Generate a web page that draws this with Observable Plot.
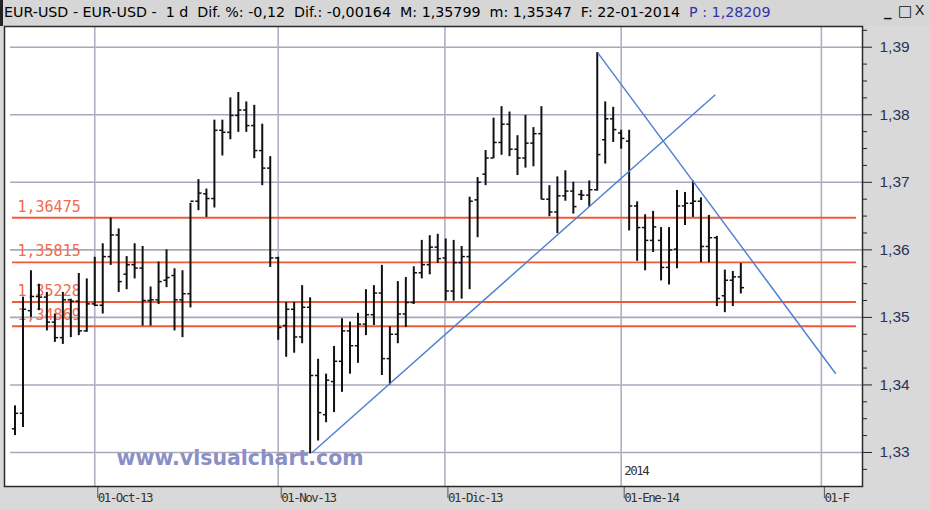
<!DOCTYPE html>
<html>
<head>
<meta charset="utf-8">
<script src="https://cdn.jsdelivr.net/npm/d3@7"></script>
<script src="https://cdn.jsdelivr.net/npm/@observablehq/plot@0.6"></script>
<style>
  html, body { margin: 0; padding: 0; background: #d9d9d9; }
  #wrap { position: relative; width: 930px; height: 510px; overflow: hidden; background: #d9d9d9; }
  #titlebar { position: absolute; left: 0; top: 0; width: 930px; height: 26px; background: #d6d6d6;
    font-family: "DejaVu Sans", Verdana, sans-serif; font-size: 14.25px; color: #000; white-space: pre;
    box-sizing: border-box; border-left: 3px solid #222; }
  #titlebar .t { position: absolute; left: 1px; top: 4px; }
  #titlebar .p { color: #2f35a8; }
  #titlebar .b { position: absolute; top: 2px; font-size: 15px; color: #111; font-family: "DejaVu Sans", sans-serif; }
  #chart { position: absolute; left: 0; top: 26px; }
  #chart svg g[aria-label="x-axis tick label"] text, #chart svg .yr text { letter-spacing: -1.5px; }
</style>
</head>
<body>
<div id="wrap">
  <div id="titlebar"><span class="t">EUR-USD - EUR-USD -  1 d  Dif. %: -0,12  Dif.: -0,00164  M: 1,35799  m: 1,35347  F: 22-01-2014  <span class="p">P : 1,28209</span></span><span class="b" style="left:881px;font-weight:bold">_</span><span class="b" style="left:895px">□</span><span class="b" style="left:912px;font-family:'Liberation Sans';font-size:14px">X</span></div>
  <div id="chart"></div>
</div>
<script>
// Daily bars, 17-Sep-2013 .. 22-Jan-2014 (trading days, in order)
const open  = [1.3335,1.3358,1.3510,1.3531,1.3530,1.3493,1.3470,1.3526,1.3524,1.3480,
               1.3520,1.3518,1.3590,1.3622,1.3564,1.3578,1.3573,1.3525,1.3526,1.3555,
               1.3562,1.3526,1.3535,1.3672,1.3683,1.3676,1.3777,1.3774,1.3799,1.3807,
               1.3784,1.3747,1.3721,1.3588,1.3488,1.3512,1.3471,1.3515,1.3414,1.3356,
               1.3405,1.3435,1.3480,1.3458,1.3490,1.3504,1.3536,1.3439,1.3475,1.3505,
               1.3522,1.3566,1.3578,1.3604,1.3588,1.3539,1.3581,1.3590,1.3674,1.3712,
               1.3736,1.3759,1.3786,1.3749,1.3736,1.3758,1.3772,1.3675,1.3656,1.3680,
               1.3687,1.3682,1.3681,1.3689,1.3763,1.3794,1.3773,1.3761,1.3665,1.3633,
               1.3614,1.3614,1.3574,1.3601,1.3665,1.3669,1.3672,1.3605,1.3618,1.3532,
               1.3555,1.3560];
const high  = [1.3369,1.3530,1.3569,1.3549,1.3537,1.3505,1.3537,1.3527,1.3565,1.3557,
               1.3589,1.3609,1.3647,1.3631,1.3590,1.3609,1.3605,1.3545,1.3582,1.3600,
               1.3572,1.3569,1.3669,1.3704,1.3690,1.3792,1.3792,1.3825,1.3833,1.3819,
               1.3814,1.3786,1.3738,1.3589,1.3522,1.3522,1.3547,1.3529,1.3438,1.3416,
               1.3457,1.3498,1.3493,1.3506,1.3541,1.3547,1.3577,1.3486,1.3553,1.3559,
               1.3575,1.3614,1.3621,1.3623,1.3616,1.3614,1.3605,1.3678,1.3707,1.3747,
               1.3795,1.3812,1.3804,1.3769,1.3799,1.3781,1.3812,1.3695,1.3708,1.3717,
               1.3700,1.3688,1.3702,1.3892,1.3819,1.3811,1.3777,1.3777,1.3671,1.3652,
               1.3657,1.3633,1.3633,1.3688,1.3685,1.3702,1.3677,1.3651,1.3620,1.3570,
               1.3568,1.35799];
const low   = [1.3325,1.3337,1.3500,1.3510,1.3480,1.3463,1.3460,1.3470,1.3473,1.3478,
               1.3516,1.3505,1.3577,1.3537,1.3541,1.3557,1.3487,1.3487,1.3519,1.3544,
               1.3480,1.3470,1.3514,1.3658,1.3648,1.3662,1.3739,1.3763,1.3774,1.3774,
               1.3735,1.3695,1.3574,1.3466,1.3441,1.3447,1.3461,1.3298,1.3317,1.3344,
               1.3359,1.3389,1.3416,1.3432,1.3473,1.3488,1.3414,1.3400,1.3461,1.3485,
               1.3519,1.3557,1.3563,1.3580,1.3524,1.3524,1.3527,1.3541,1.3618,1.3695,
               1.3735,1.3740,1.3738,1.3710,1.3721,1.3723,1.3674,1.3649,1.3624,1.3672,
               1.3653,1.3673,1.3663,1.3687,1.3727,1.3759,1.3749,1.3628,1.3583,1.3569,
               1.3596,1.3554,1.3548,1.3572,1.3636,1.3648,1.3581,1.3581,1.3516,1.3507,
               1.3516,1.35347];
const close = [1.3358,1.3512,1.3531,1.3530,1.3493,1.3470,1.3526,1.3524,1.3480,1.3520,
               1.3518,1.3590,1.3622,1.3553,1.3578,1.3573,1.3525,1.3526,1.3553,1.3559,
               1.3526,1.3535,1.3672,1.3684,1.3676,1.3777,1.3774,1.3799,1.3807,1.3784,
               1.3747,1.3721,1.3588,1.3485,1.3512,1.3471,1.3515,1.3414,1.3359,1.3407,
               1.3435,1.3480,1.3458,1.3490,1.3504,1.3536,1.3439,1.3475,1.3505,1.3522,
               1.3566,1.3578,1.3604,1.3587,1.3539,1.3581,1.3590,1.3672,1.3700,1.3736,
               1.3759,1.3786,1.3749,1.3736,1.3758,1.3772,1.3675,1.3656,1.3680,1.3687,
               1.3664,1.3681,1.3689,1.3741,1.3794,1.3778,1.3765,1.3665,1.3633,1.3614,
               1.3634,1.3574,1.3600,1.3665,1.3669,1.3672,1.3605,1.3618,1.3528,1.3555,
               1.3560,1.3544];

// Horizontal support/resistance levels
const levels = [1.36475, 1.35815, 1.35228, 1.34869];
const levelLabels = ["1,36475", "1,35815", "1,35228", "1,34869"];

// Trend lines (bar index, price)
const trendX1 = [37.26, 73.07];
const trendY1 = [1.3300, 1.38917];
const trendX2 = [87.8, 102.9];
const trendY2 = [1.38295, 1.34166];

// Axis ticks
const yMajor = [1.33, 1.34, 1.35, 1.36, 1.37, 1.38, 1.39];
const yMinor = [1.3275,1.3325,1.335,1.3375,1.3425,1.345,1.3475,1.3525,1.355,1.3575,
                1.3625,1.365,1.3675,1.3725,1.375,1.3775,1.3825,1.385,1.3875,1.3925];
const xTickIdx = [10, 33, 53.9, 76, 101.1];
const xTickLabels = ["01-Oct-13", "01-Nov-13", "01-Dic-13", "01-Ene-14", "01-F"];
const yearIdx = [76];
const yearLabels = ["2014"];

const bars = open.map((o, i) => ({i, open: o, high: high[i], low: low[i], close: close[i]}));
const trends = trendX1.map((x, k) => ({x1: x, y1: trendY1[k], x2: trendX2[k], y2: trendY2[k]}));
const lvl = levels.map((v, k) => ({v, label: levelLabels[k]}));
const xLabelMap = new Map(xTickIdx.map((d, k) => [d, xTickLabels[k]]));
const years = yearIdx.map((d, k) => ({i: d, label: yearLabels[k]}));

const half = 0.4;

const chart = Plot.plot({
  width: 930,
  height: 484,
  marginLeft: 4,
  marginRight: 68,
  marginTop: 0,
  marginBottom: 24,
  style: {background: "#d9d9d9", fontFamily: "Liberation Sans, Arial, sans-serif", overflow: "visible"},
  x: {type: "linear", domain: [-1.3164, 106.256], axis: null},
  y: {domain: [1.324963, 1.393067], axis: null},
  marks: [
    Plot.frame({fill: "white", stroke: null}),
    Plot.gridY(yMajor, {stroke: "#a8a8bc", strokeOpacity: 1, strokeWidth: 1.6, insetLeft: 6}),
    Plot.gridX(xTickIdx, {stroke: "#b0b0c4", strokeOpacity: 1, strokeWidth: 1.6}),
    Plot.ruleY(lvl, {y: "v", stroke: "#f05a3a", strokeWidth: 1.8, insetLeft: 8, insetRight: 6}),
    Plot.text(lvl, {y: "v", text: "label", frameAnchor: "left", textAnchor: "start", dx: 13, dy: -11,
      fill: "#f26a4c", fontFamily: "DejaVu Sans Mono, monospace", fontSize: 15}),
    Plot.ruleX(bars, {x: "i", y1: "low", y2: "high", stroke: "#111", strokeWidth: 2}),
    Plot.link(bars, {x1: d => d.i - half, x2: "i", y1: "open", y2: "open", stroke: "#111", strokeWidth: 1.5}),
    Plot.link(bars, {x1: "i", x2: d => d.i + half, y1: "close", y2: "close", stroke: "#111", strokeWidth: 1.5}),
    Plot.link(trends, {x1: "x1", y1: "y1", x2: "x2", y2: "y2", stroke: "#4a7fd0", strokeWidth: 1.4}),
    Plot.text(years, {x: "i", text: "label", frameAnchor: "bottom", textAnchor: "start", dx: 3, dy: -12,
      fill: "#333", fontFamily: "DejaVu Sans Mono, monospace", fontSize: 12.5, className: "yr"}),
    Plot.text(["www.visualchart.com"], {frameAnchor: "bottom-left", textAnchor: "start", dx: 112, dy: -22,
      fill: "#8a90c6", fontWeight: "bold", fontSize: 20.5, fontFamily: "DejaVu Sans, Verdana, sans-serif"}),
    Plot.axisY({ticks: yMinor, anchor: "right", tickSize: 4, tickFormat: () => "", stroke: "#222"}),
    Plot.axisY({ticks: yMajor, anchor: "right", tickSize: 9, tickPadding: 8,
      tickFormat: d => d3.format(".2f")(d).replace(".", ","),
      fill: "#2c3158", stroke: "#222", fontSize: 15.5, fontFamily: "Liberation Sans, Arial, sans-serif"}),
    Plot.axisX({ticks: xTickIdx, anchor: "bottom", tickSize: 12, tickPadding: -5, textAnchor: "start", dx: 3,
      tickFormat: d => xLabelMap.get(d), fill: "#333", stroke: "#555",
      fontSize: 12.5, fontFamily: "DejaVu Sans Mono, monospace"}),
    Plot.frame({stroke: "#2a2a2a", strokeWidth: 1.5})
  ]
});
document.getElementById("chart").appendChild(chart);
</script>
</body>
</html>
